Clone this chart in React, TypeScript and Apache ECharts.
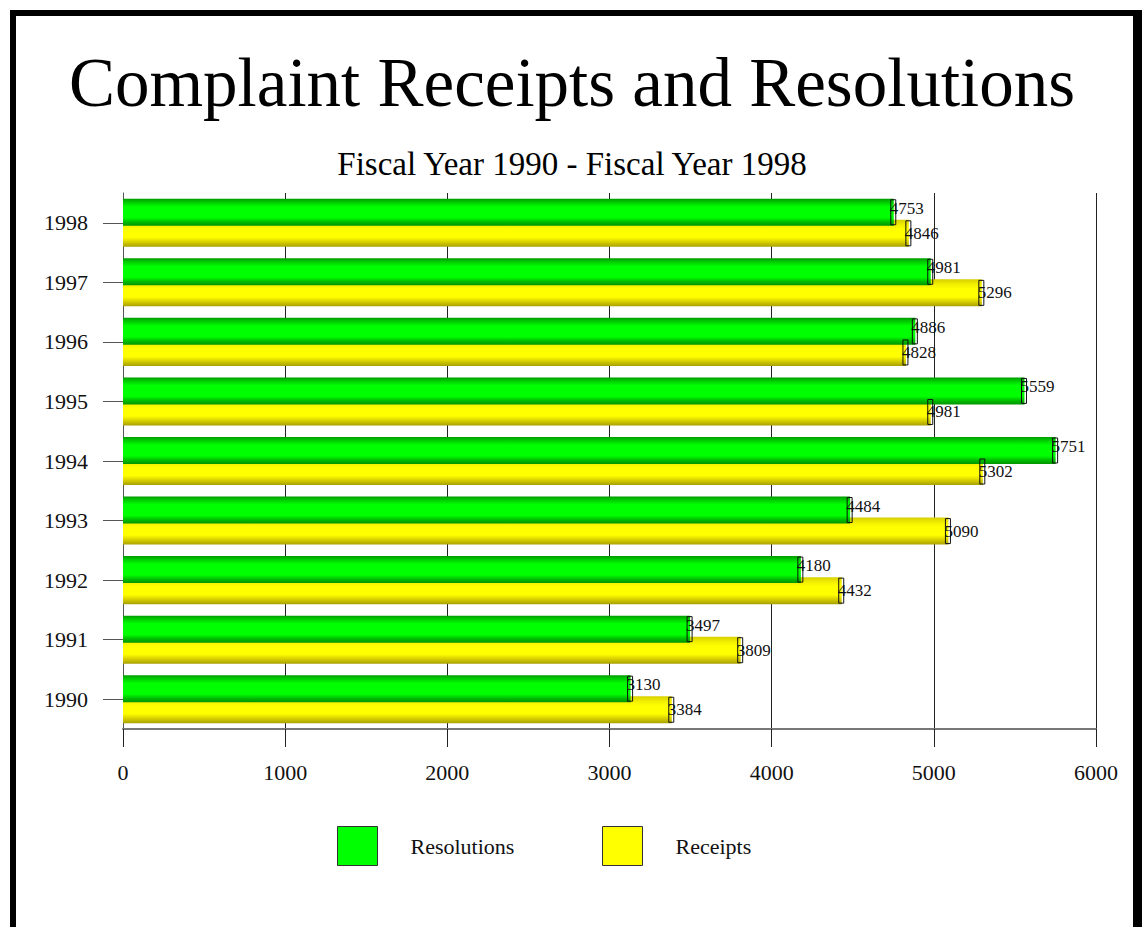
import React, { useEffect, useRef } from "react";
import * as echarts from "echarts";

const years = ["1990", "1991", "1992", "1993", "1994", "1995", "1996", "1997", "1998"];
const resolutions = [3130, 3497, 4180, 4484, 5751, 5559, 4886, 4981, 4753];
const receipts = [3384, 3809, 4432, 5090, 5302, 4981, 4828, 5296, 4846];
const xTicks = { min: 0, max: 6000, interval: 1000 };

const FONT = '"Liberation Serif", "Times New Roman", serif';
const BAR_W = 27;
const GAP = -0.22;

function capSeries(values: number[], offset: number) {
  return {
    type: "custom",
    silent: true,
    z: 5,
    encode: { x: 0, y: 1 },
    data: values.map((v, i) => [v, i]),
    renderItem: (params: any, api: any) => {
      const p = api.coord([api.value(0), api.value(1)]);
      return {
        type: "rect",
        shape: { x: p[0] - 3, y: p[1] + offset - BAR_W / 2 + 1, width: 5, height: BAR_W - 2 },
        style: { fill: "rgba(0,0,0,0)", stroke: "#111", lineWidth: 1 },
      };
    },
  };
}

export default function App() {
  const ref = useRef<HTMLDivElement>(null);
  useEffect(() => {
    document.body.style.margin = "0";
    const chart = echarts.init(ref.current!, null, { renderer: "svg" });
    const greenGrad = new echarts.graphic.LinearGradient(0, 0, 0, 1, [
      { offset: 0, color: "#009a00" },
      { offset: 0.12, color: "#00c800" },
      { offset: 0.3, color: "#00ff00" },
      { offset: 0.7, color: "#00ff00" },
      { offset: 0.85, color: "#00c000" },
      { offset: 1, color: "#009400" },
    ]);
    const yellowGrad = new echarts.graphic.LinearGradient(0, 0, 0, 1, [
      { offset: 0, color: "#d8d000" },
      { offset: 0.2, color: "#f4f000" },
      { offset: 0.35, color: "#ffff00" },
      { offset: 0.65, color: "#ffff00" },
      { offset: 0.82, color: "#d8d000" },
      { offset: 1, color: "#a8a000" },
    ]);
    const labelStyle = {
      show: true,
      position: "right",
      distance: -4,
      fontFamily: FONT,
      fontSize: 17,
      color: "#111",
    };
    const barGapPct = Math.round(GAP * 100) + "%";
    chart.setOption({
      animation: false,
      backgroundColor: "#fff",
      title: [
        {
          text: "Complaint Receipts and Resolutions",
          left: "center",
          top: 43,
          textStyle: { fontFamily: FONT, fontSize: 69, fontWeight: "normal", color: "#000" },
        },
        {
          text: "Fiscal Year 1990 - Fiscal Year 1998",
          left: "center",
          top: 142,
          textStyle: { fontFamily: FONT, fontSize: 33, fontWeight: "normal", color: "#000" },
        },
      ],
      legend: [
        {
          data: [{ name: "Resolutions", itemStyle: { color: "#00ff00", borderColor: "#333", borderWidth: 1 } }],
          left: 337,
          top: 826,
          padding: 0,
          itemWidth: 40,
          itemHeight: 39,
          icon: "rect",
          selectedMode: false,
          textStyle: { fontFamily: FONT, fontSize: 22, color: "#111", padding: [0, 0, 4, 28] },
        },
        {
          data: [{ name: "Receipts", itemStyle: { color: "#ffff00", borderColor: "#333", borderWidth: 1 } }],
          left: 602,
          top: 826,
          padding: 0,
          itemWidth: 40,
          itemHeight: 39,
          icon: "rect",
          selectedMode: false,
          textStyle: { fontFamily: FONT, fontSize: 22, color: "#111", padding: [0, 0, 4, 28] },
        },
      ],
      grid: { left: 123, right: 48, top: 193, bottom: 198 },
      xAxis: {
        type: "value",
        min: xTicks.min,
        max: xTicks.max,
        interval: xTicks.interval,
        axisLine: { show: true, lineStyle: { color: "#777", width: 2 } },
        axisTick: { show: true, length: 18, lineStyle: { color: "#222" } },
        axisLabel: { margin: 32, fontFamily: FONT, fontSize: 22, color: "#111", formatter: (v: number) => String(v) },
        splitLine: { show: true, lineStyle: { color: "#222", width: 1 } },
      },
      yAxis: {
        type: "category",
        data: years,
        axisLine: { show: true, lineStyle: { color: "#555", width: 1 } },
        axisTick: { show: true, alignWithLabel: true, length: 20, lineStyle: { color: "#555" } },
        axisLabel: { margin: 35, fontFamily: FONT, fontSize: 22, color: "#111" },
        splitLine: { show: false },
      },
      graphic: [
        { type: "rect", left: 10, top: 10, shape: { width: 6, height: 930 }, style: { fill: "#000" }, z: 100 },
        { type: "rect", left: 10, top: 10, shape: { width: 1132, height: 6 }, style: { fill: "#000" }, z: 100 },
        { type: "rect", left: 1133, top: 10, shape: { width: 9, height: 930 }, style: { fill: "#000" }, z: 100 },
      ],
      series: [
        {
          name: "Resolutions",
          type: "bar",
          z: 3,
          data: resolutions,
          barWidth: BAR_W,
          barGap: barGapPct,
          itemStyle: { color: greenGrad },
          label: { ...labelStyle, offset: [0, -4] },
        },
        {
          name: "Receipts",
          type: "bar",
          z: 2,
          data: receipts,
          barWidth: BAR_W,
          barGap: barGapPct,
          itemStyle: { color: yellowGrad },
          label: labelStyle,
        },
        capSeries(resolutions, -(BAR_W * (1 + GAP)) / 2),
        capSeries(receipts, (BAR_W * (1 + GAP)) / 2),
      ],
    });
    return () => chart.dispose();
  }, []);
  return <div ref={ref} style={{ width: 1144, height: 927 }} />;
}
